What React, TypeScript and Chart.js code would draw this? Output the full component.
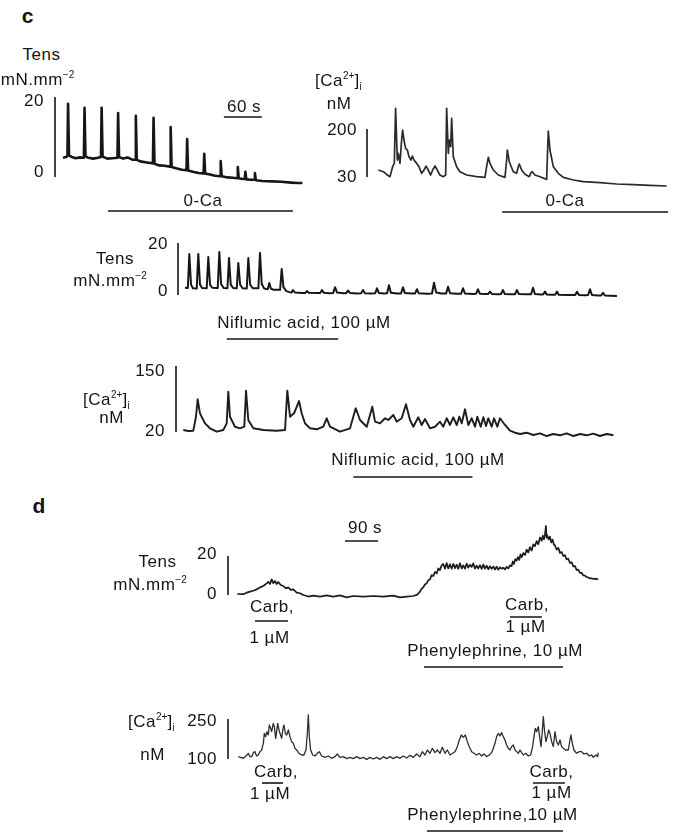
import React, { useEffect, useRef } from "react";
import { Chart, registerables } from "chart.js";

Chart.register(...registerables);

// ---------------- data ----------------
// c, top-left: tension (mN.mm^-2) vs time (s)
const c1Time = [0, 5, 7, 8, 9.5, 14, 20, 27, 32, 33, 34, 35.5, 40, 48, 55, 60, 61, 62.5, 70, 78, 86, 87, 88.5, 95, 102, 110, 114, 115, 116.5, 122, 130, 138, 142, 143, 144.5, 152, 160, 169, 170, 171.5, 180, 188, 195, 196, 197.5, 205, 214, 222, 223, 224.5, 232, 240, 248, 249, 250.5, 260, 268, 275, 276, 277.5, 283, 287, 288, 289.5, 296, 302, 303, 304.5, 315, 330, 345, 360, 370, 378];
const c1Tension = [4.8, 5.0, 5.2, 18.3, 5.4, 5.0, 4.7, 4.9, 4.8, 5.3, 17.3, 5.2, 4.8, 4.6, 4.8, 5.0, 17.3, 5.1, 4.6, 4.7, 4.8, 16.0, 5.0, 4.6, 4.9, 4.3, 4.3, 15.3, 4.3, 3.9, 3.7, 3.5, 3.4, 14.8, 3.3, 2.9, 2.8, 2.6, 12.5, 2.5, 2.1, 1.8, 1.7, 9.5, 1.6, 1.3, 1.0, 0.9, 5.8, 0.9, 0.6, 0.3, 0.2, 4.0, 0.2, -0.1, -0.2, -0.3, 2.5, -0.3, -0.5, -0.5, 1.3, -0.6, -0.7, -0.7, 1.0, -0.8, -1.0, -1.1, -1.2, -1.4, -1.5, -1.5];
const c1Ticks = [0, 20];
const c1ZeroCa = [71, 363];
const c1ScaleSec = [254, 314]; // 60 s

// c, top-right: [Ca2+]i (nM)
const c2Time = [0.5, 8.4, 14.7, 18.9, 23.1, 25.7, 27.8, 30.5, 32.1, 34.7, 37.3, 38.9, 41.0, 43.6, 46.3, 48.9, 52.1, 54.2, 56.8, 61.0, 64.7, 68.9, 72.6, 75.7, 79.4, 83.1, 86.3, 90.0, 93.6, 97.8, 103.1, 106.8, 108.4, 111.0, 112.6, 114.7, 116.3, 118.9, 124.2, 129.4, 140.0, 155.7, 168.9, 171.5, 174.2, 176.8, 182.1, 189.9, 200.5, 203.1, 204.2, 207.3, 213.6, 218.9, 221.5, 223.1, 226.8, 232.1, 238.9, 241.5, 243.6, 247.8, 255.7, 266.3, 267.8, 268.9, 271.5, 276.8, 284.7, 292.6, 308.4, 324.2, 350.5, 376.8, 403.1, 429.4, 455.7];
const c2Calcium = [54.7, 48.8, 37.0, 31.1, 66.5, 78.3, 273.1, 90.1, 113.8, 78.3, 161.0, 196.4, 161.0, 131.5, 125.6, 102.0, 90.1, 104.3, 90.1, 78.3, 66.5, 42.9, 54.7, 68.9, 54.7, 37.0, 54.7, 68.9, 54.7, 37.0, 31.1, 37.0, 273.1, 113.8, 161.0, 137.4, 237.7, 102.0, 66.5, 48.8, 37.0, 31.1, 28.8, 66.5, 99.6, 78.3, 54.7, 37.0, 28.8, 90.1, 125.6, 84.2, 48.8, 42.9, 66.5, 76.0, 54.7, 39.4, 31.1, 45.3, 48.8, 37.0, 31.1, 21.7, 125.6, 192.9, 125.6, 66.5, 42.9, 28.8, 19.3, 13.4, 9.9, 5.2, 2.8, 0.4, -1.9];
const c2Ticks = [30, 200];
const c2ZeroCa = [196, 458];

// c, middle: tension with niflumic acid
const c3Time = [0, 4.5, 6.8, 9.5, 12.5, 18.5, 21.0, 23.7, 27, 34.3, 36.8, 39.5, 43, 51.7, 54.2, 57, 61, 67, 69.5, 72.2, 76, 81.7, 84.2, 87, 91, 97.5, 100.0, 102.8, 107, 115.9, 118.4, 121.2, 125, 130.6, 133.1, 135.5, 140, 150.2, 152.7, 155.5, 160, 165, 168, 170.5, 173.5, 185, 190, 192.6, 195.5, 208, 213.5, 216.3, 219, 228, 234, 236.9, 240, 250, 254.5, 257.4, 260.5, 272, 278, 281.1, 284, 295, 300.3, 303.2, 306, 314, 319, 322.1, 325, 335, 341, 344.2, 347, 358, 363.3, 366.3, 369, 382, 390, 393.2, 396.5, 405, 412.3, 415.3, 418.5, 430, 436, 438.9, 442, 455, 459.6, 462.6, 465.5, 475, 478.8, 481.6, 484.5, 495, 499, 502.1, 505, 515, 521, 524.2, 527, 540, 546.5, 549.5, 552.5, 562, 565.5, 568.4, 571, 580, 584.5, 587.4, 590, 605, 616, 619, 622, 632, 636.5, 639.5, 642.5, 652, 657, 660, 663, 672, 682];
const c3Tension = [2.8, 2.7, 15.8, 4.0, 2.6, 2.5, 15.8, 4.0, 2.7, 2.6, 14.6, 4.0, 2.8, 2.7, 16.5, 4.2, 2.7, 2.6, 14.2, 4.0, 2.7, 2.6, 12.3, 4.0, 2.6, 2.5, 14.2, 4.0, 2.6, 2.6, 16.2, 4.2, 2.5, 2.2, 4.6, 2.5, 2.0, 2.0, 10.0, 3.0, 1.5, 1.1, 0.9, 1.9, 1.0, 0.8, 0.8, 1.5, 0.9, 0.8, 0.8, 1.9, 0.9, 0.7, 0.8, 3.0, 1.0, 0.7, 0.7, 1.7, 0.8, 0.6, 0.7, 1.9, 0.7, 0.6, 0.7, 2.6, 0.8, 0.6, 0.7, 3.8, 0.9, 0.6, 0.6, 3.0, 0.8, 0.6, 0.6, 2.2, 0.7, 0.5, 0.6, 4.7, 1.0, 0.6, 0.6, 3.2, 0.7, 0.5, 0.5, 2.6, 0.6, 0.4, 0.5, 2.2, 0.5, 0.4, 0.4, 1.3, 0.4, 0.3, 0.4, 1.9, 0.4, 0.3, 0.3, 1.9, 0.4, 0.3, 0.3, 2.8, 0.4, 0.2, 0.2, 1.3, 0.2, 0.1, 0.1, 1.3, 0.1, 0.0, 0.0, 1.2, 0.0, -0.1, 0.0, 2.2, 0.0, -0.2, -0.2, 0.8, -0.2, -0.3, -0.4];
const c3Ticks = [0, 20];
const c3Niflumic = [66, 242];

// c, bottom: [Ca2+]i with niflumic acid
const c4Time = [0.5, 8.4, 16.3, 20.5, 23.2, 26.8, 34.7, 42.6, 53.2, 63.6, 69.0, 71.5, 74.2, 82.1, 90.0, 96.8, 99.5, 103.1, 111.0, 126.8, 148.0, 161.1, 164.7, 169.0, 175.3, 183.2, 187.4, 192.6, 200.5, 211.1, 221.5, 226.9, 232.1, 247.9, 263.7, 272.7, 279.5, 290.1, 298.9, 303.2, 311.1, 319.0, 324.2, 332.1, 337.4, 345.3, 352.1, 358.4, 363.7, 371.5, 376.9, 382.1, 390.0, 397.9, 405.8, 411.0, 416.4, 421.6, 426.8, 432.2, 436.3, 440.1, 445.3, 450.5, 455.9, 461.1, 464.7, 470.1, 474.2, 478.4, 482.1, 487.4, 491.1, 496.3, 500.5, 508.4, 516.3, 524.2, 532.1, 542.7, 553.2, 563.7, 574.3, 584.7, 595.3, 605.9, 616.3, 626.9, 637.4, 647.9, 658.4, 669.0, 679.5];
const c4Calcium = [23.9, 22, 22.6, 50, 84.4, 56.8, 37.1, 27.3, 20.6, 23.9, 37.1, 99.4, 50, 30.4, 27.3, 30.4, 101.4, 43.6, 27.3, 23.9, 22.6, 23.9, 101.4, 50, 56.8, 81, 56.8, 37.1, 27.3, 25.3, 30.4, 47, 30.4, 20.6, 27.3, 66.7, 43.6, 30.4, 69.8, 40.3, 37.1, 47, 43.6, 53.5, 40.3, 47, 74.6, 43.6, 30.4, 49, 33.8, 45.6, 27.3, 30.4, 40.3, 30.4, 47, 33.8, 49, 33.8, 50, 37.1, 64.7, 33.8, 47, 30.4, 50, 30.4, 49, 31.8, 47, 30.4, 47, 30.4, 47, 33.8, 22.6, 18.6, 16.1, 18.6, 14.1, 17.4, 12.1, 16.1, 13.5, 17.4, 12.1, 16.1, 13.5, 16.7, 12.1, 16.1, 13.5];
const c4Ticks = [20, 150];
const c4Niflumic = [269, 457];

// d, top: tension with carbachol / phenylephrine
const d1Time = [0.8, 17.2, 26.5, 35.5, 44.5, 53.7, 62.7, 71.7, 81.0, 85.4, 90.0, 94.6, 99.0, 103.6, 108.3, 112.6, 119.2, 126.3, 133.6, 139.9, 146.4, 153.5, 162.8, 171.8, 180.8, 194.4, 208.1, 226.3, 244.6, 262.6, 280.9, 299.1, 317.2, 344.4, 371.7, 399.0, 426.2, 444.5, 462.8, 480.8, 491.7,
  499.0, 503.5, 508.0, 512.5, 517.3, 521.8, 526.3, 530.8, 535.3, 539.8, 544.6, 549.1, 553.6, 558.1, 562.6, 567.3, 571.8, 576.3, 580.9, 585.5, 590.0, 594.5, 599.0, 603.5, 608.1, 612.8, 617.3, 621.8, 626.3, 630.8, 635.4, 640.0, 644.5, 649.0, 653.5, 658.0, 662.6, 667.3, 671.8, 676.3, 680.8, 685.3, 689.9, 694.5, 699.0, 703.6, 708.1, 712.6, 717.2, 721.8, 726.3, 730.8, 735.3, 739.8, 744.4, 749.0, 752.2, 755.4, 759.0, 762.7, 766.2, 769.8, 773.0, 776.3, 780.8, 785.4, 789.9, 794.4, 799.0, 803.7, 808.2, 812.7, 817.2, 821.7, 826.3, 831.0, 834.1, 837.2, 840.0, 842.6, 844.4, 846.2, 850.0, 853.6, 857.2, 860.9, 864.0, 867.2, 871.7, 876.2, 880.8, 885.5, 890.0, 894.5, 899.0, 903.5, 908.1, 912.7, 917.2, 921.7, 926.2, 930.7, 935.3, 940.0, 944.5, 949.0, 953.5, 958.0, 962.6, 967.3, 971.8, 976.3, 980.8, 985.3];
const d1Tension = [0.5, 0.4, 1.2, 1.7, 2.2, 2.9, 3.9, 4.6, 6.0, 6.8, 5.6, 8.0, 6.0, 7.2, 5.6, 6.7, 5.1, 4.6, 3.4, 3.9, 2.6, 2.9, 1.2, 0.9, 0, -0.8, -0.3, -0.8, -0.2, -0.8, -0.2, -1.2, -0.5, -0.8, -0.5, -0.8, -0.3, -1.2, -0.8, -0.5, 0.2,
  1.7, 3.2, 3.9, 5.4, 6.0, 7.6, 8.0, 10.2, 9.7, 11.8, 11.1, 13.6, 12.8, 15.2, 15.9, 13.5, 16.4, 13.6, 15.8, 13.5, 16.0, 13.8, 15.6, 13.4, 16.3, 13.6, 15.2, 13.5, 16.1, 14.0, 15.5, 14.4, 16.2, 13.5, 15.0, 13.6, 15.3, 13.4, 15.6, 13.5, 15.1, 13.2, 14.8, 13.4, 14.6, 13.1, 14.5, 13.0, 14.2, 13.5, 14.0, 13.1, 14.4, 13.6, 15.2, 14.8, 17.2, 15.9, 18.4, 17.6, 19.5, 18.0, 20.8, 19.4, 21.5, 20.5, 23.3, 21.8, 24.6, 22.8, 26.0, 25.1, 27.6, 26.0, 29.5, 27.8, 30.4, 28.6, 31.2, 35.4, 29.4, 30.6, 28.5, 29.9, 27.0, 28.4, 26.0, 25.4, 23.3, 24.2, 21.6, 22.0, 20.0, 20.4, 18.3, 18.6, 16.4, 16.8, 14.6, 14.9, 12.8, 13.0, 11.3, 11.4, 10.0, 9.9, 9.2, 9.0, 8.5, 8.5, 8.2, 8.4, 8.1, 8.2];
const d1Ticks = [0, 20];
const d1ScaleSec = [294.5, 384.5]; // 90 s
const d1Carb1 = [49, 139];
const d1Carb2 = [744.5, 831.7];
const d1Phenylephrine = [510, 889];

// d, bottom: [Ca2+]i with carbachol / phenylephrine
const d2Time = [0.9, 7.3, 14.5, 21.8, 28.2, 32.7, 37.3, 41.8, 46.3, 50.9, 55.4, 60.0, 64.5, 69.1, 71.8, 75.4, 79.1, 82.7, 85.4, 89.1, 91.8, 96.3, 99.1, 102.7, 105.4, 108.2, 111.8, 114.5, 119.1, 122.7, 125.4, 129.1, 132.7, 137.3, 141.8, 146.3, 150.9, 155.4, 160.0, 166.3, 173.6, 180.0, 185.4, 189.1, 191.8, 194.5, 198.1, 203.6, 210.0, 216.3, 221.8, 228.1, 237.2, 246.3, 255.4, 264.5, 270.9, 278.1, 287.2, 296.3, 305.4, 314.5, 323.6, 332.7, 341.8, 350.9, 360.0, 369.0, 378.1, 387.2, 396.3, 405.4, 414.5, 423.6, 432.7, 441.8, 450.9, 460.0, 469.0, 478.1, 487.2, 496.3, 502.7, 510.0, 516.3, 523.6, 530.0, 537.2, 543.6, 550.9, 557.2, 564.5, 570.8, 578.1, 585.4, 591.8, 598.1, 603.6, 609.0, 614.5, 620.0, 625.4, 630.8, 637.2, 643.6, 650.8, 658.1, 664.5, 670.8, 678.1, 685.4, 691.7, 696.3, 700.8, 705.4, 709.9, 714.5, 719.0, 723.6, 728.1, 732.6, 737.2, 741.7, 746.3, 750.8, 755.4, 759.9, 764.5, 769.0, 773.6, 778.1, 785.4, 791.7, 798.1, 803.5, 807.2, 810.8, 814.4, 819.0, 822.6, 826.3, 829.9, 832.6, 836.3, 839.9, 843.5, 847.2, 850.8, 855.4, 859.9, 864.4, 869.0, 873.5, 878.1, 882.6, 887.2, 893.5, 900.8, 905.4, 908.1, 911.8, 916.3, 923.5, 930.8, 937.2, 943.5, 950.8, 958.1, 964.5, 969.0, 976.3, 980.8, 982.6];
const d2Calcium = [108.8, 106.3, 102.5, 111.3, 121.3, 108.8, 108.8, 123.8, 127.5, 111.3, 115.0, 127.5, 133.8, 158.8, 196.3, 183.8, 202.5, 190.0, 227.5, 215.0, 202.5, 233.8, 221.3, 177.5, 202.5, 233.8, 208.8, 196.3, 177.5, 215.0, 227.5, 196.3, 190.0, 208.8, 183.8, 165.0, 158.8, 140.0, 133.8, 121.3, 115.0, 115.0, 133.8, 196.3, 265.0, 183.8, 133.8, 115.0, 111.3, 121.3, 127.5, 111.3, 106.3, 111.3, 102.5, 108.8, 118.8, 106.3, 108.8, 101.3, 106.3, 101.3, 108.8, 101.3, 106.3, 98.8, 106.3, 100.0, 106.3, 98.8, 108.8, 101.3, 108.8, 101.3, 108.8, 102.5, 111.3, 103.8, 113.8, 106.3, 118.8, 108.8, 127.5, 115.0, 133.8, 121.3, 140.0, 123.8, 133.8, 121.3, 143.8, 121.3, 133.8, 115.0, 121.3, 127.5, 146.3, 171.3, 190.0, 181.3, 190.0, 165.0, 146.3, 127.5, 121.3, 115.0, 121.3, 111.3, 118.8, 108.8, 115.0, 123.8, 140.0, 158.8, 183.8, 196.3, 186.3, 198.8, 183.8, 171.3, 152.5, 140.0, 133.8, 146.3, 152.5, 133.8, 127.5, 121.3, 133.8, 123.8, 115.0, 121.3, 111.3, 115.0, 146.3, 183.8, 215.0, 202.5, 221.3, 183.8, 146.3, 202.5, 258.8, 202.5, 165.0, 183.8, 208.8, 196.3, 165.0, 146.3, 202.5, 165.0, 152.5, 171.3, 146.3, 140.0, 133.8, 133.8, 171.3, 190.0, 158.8, 133.8, 121.3, 127.5, 127.5, 118.8, 121.3, 111.3, 115.0, 106.3, 115.0, 108.8, 123.8];
const d2Ticks = [100, 250];
const d2Carb1 = [65.4, 122.7];
const d2Carb2 = [804.5, 891.7];
const d2Phenylephrine = [515.4, 886.3];

// ---------------- layout ----------------
const FONT = '"Liberation Sans", Arial, Helvetica, sans-serif';
const INK = "#141414";

type Bar = { range: number[]; yPx: number };
type Panel = {
  id: string;
  box: [number, number, number, number];
  t0Px: number; pxPerSec: number;
  refVal: number; refPx: number; pxPerUnit: number;
  barPx: number; ticks: number[]; tickDy: number[]; tickGap: number;
  bars: Bar[];
  time: number[]; values: number[];
  lineWidth: number; color: string;
};

const panels: Panel[] = [
  { id: "c1", box: [0, 85, 340, 135], t0Px: 63, pxPerSec: 38 / 60, refVal: 0, refPx: 177, pxPerUnit: 4,
    barPx: 55, ticks: c1Ticks, tickDy: [-5, 4], tickGap: 11,
    bars: [{ range: c1ZeroCa, yPx: 211 }, { range: c1ScaleSec, yPx: 117 }],
    time: c1Time, values: c1Tension, lineWidth: 2.6, color: "#161616" },
  { id: "c2", box: [300, 95, 385, 125], t0Px: 378, pxPerSec: 38 / 60, refVal: 30, refPx: 177, pxPerUnit: 48 / 170,
    barPx: 367, ticks: c2Ticks, tickDy: [0, 1], tickGap: 10,
    bars: [{ range: c2ZeroCa, yPx: 212 }],
    time: c2Time, values: c2Calcium, lineWidth: 1.7, color: "#2b2b2b" },
  { id: "c3", box: [130, 230, 510, 120], t0Px: 185, pxPerSec: 38 / 60, refVal: 0, refPx: 295, pxPerUnit: 2.6,
    barPx: 178, ticks: c3Ticks, tickDy: [-4, 1], tickGap: 10,
    bars: [{ range: c3Niflumic, yPx: 339 }],
    time: c3Time, values: c3Tension, lineWidth: 2.0, color: "#161616" },
  { id: "c4", box: [120, 355, 520, 125], t0Px: 183, pxPerSec: 38 / 60, refVal: 20, refPx: 432, pxPerUnit: 66 / 130,
    barPx: 176, ticks: c4Ticks, tickDy: [-1, 5], tickGap: 11,
    bars: [{ range: c4Niflumic, yPx: 477 }],
    time: c4Time, values: c4Calcium, lineWidth: 1.9, color: "#1c1c1c" },
  { id: "d1", box: [170, 515, 460, 160], t0Px: 237, pxPerSec: 33 / 90, refVal: 0, refPx: 595, pxPerUnit: 1.95,
    barPx: 228, ticks: d1Ticks, tickDy: [-1, -2], tickGap: 11,
    bars: [{ range: d1ScaleSec, yPx: 541 }, { range: d1Carb1, yPx: 621 }, { range: d1Carb2, yPx: 617 }, { range: d1Phenylephrine, yPx: 667 }],
    time: d1Time, values: d1Tension, lineWidth: 1.7, color: "#1c1c1c" },
  { id: "d2", box: [170, 700, 460, 133], t0Px: 238, pxPerSec: 33 / 90, refVal: 100, refPx: 759, pxPerUnit: 40 / 150,
    barPx: 228, ticks: d2Ticks, tickDy: [0, 2], tickGap: 11,
    bars: [{ range: d2Carb1, yPx: 783 }, { range: d2Carb2, yPx: 783 }, { range: d2Phenylephrine, yPx: 831 }],
    time: d2Time, values: d2Calcium, lineWidth: 1.3, color: "#2e2e2e" },
];

function makeOverlay(p: Panel) {
  return {
    id: "overlay_" + p.id,
    afterDatasetsDraw(chart: any) {
      const { ctx, scales } = chart;
      const x = scales.x, y = scales.y;
      ctx.save();
      ctx.strokeStyle = INK;
      ctx.fillStyle = INK;
      ctx.lineWidth = 1.6;
      ctx.lineCap = "butt";
      const bx = p.barPx - p.box[0];
      ctx.beginPath();
      ctx.moveTo(bx, y.getPixelForValue(p.ticks[0]));
      ctx.lineTo(bx, y.getPixelForValue(p.ticks[1]));
      ctx.stroke();
      ctx.font = "17px " + FONT;
      try { (ctx as any).letterSpacing = "0.5px"; } catch (e) {}
      ctx.textAlign = "right";
      ctx.textBaseline = "middle";
      p.ticks.forEach((v, i) => {
        ctx.fillText(String(v), bx - p.tickGap, y.getPixelForValue(v) + p.tickDy[i]);
      });
      p.bars.forEach((b) => {
        const yy = b.yPx - p.box[1];
        ctx.beginPath();
        ctx.moveTo(x.getPixelForValue(b.range[0]), yy);
        ctx.lineTo(x.getPixelForValue(b.range[1]), yy);
        ctx.stroke();
      });
      ctx.restore();
    },
  };
}

function Trace({ p }: { p: Panel }) {
  const ref = useRef<HTMLCanvasElement | null>(null);
  const [left, top, w, h] = p.box;
  useEffect(() => {
    if (!ref.current) return;
    const n = Math.min(p.time.length, p.values.length);
    const pts = [] as { x: number; y: number }[];
    for (let i = 0; i < n; i++) pts.push({ x: p.time[i], y: p.values[i] });
    const xMin = (left - p.t0Px) / p.pxPerSec;
    const xMax = (left + w - p.t0Px) / p.pxPerSec;
    const yMax = p.refVal + (p.refPx - top) / p.pxPerUnit;
    const yMin = p.refVal - (top + h - p.refPx) / p.pxPerUnit;
    const chart = new Chart(ref.current, {
      type: "line",
      data: {
        datasets: [{
          data: pts as any,
          borderColor: p.color,
          borderWidth: p.lineWidth,
          pointRadius: 0,
          tension: 0,
          fill: false,
          borderJoinStyle: "round",
        }],
      },
      options: {
        responsive: false,
        animation: false,
        events: [],
        layout: { padding: 0 },
        plugins: { legend: { display: false }, tooltip: { enabled: false }, title: { display: false } },
        scales: {
          x: { type: "linear", display: false, min: xMin, max: xMax },
          y: { type: "linear", display: false, min: yMin, max: yMax },
        },
      },
      plugins: [makeOverlay(p)],
    });
    return () => chart.destroy();
  }, [p]);
  return (
    <canvas ref={ref} width={w} height={h}
      style={{ position: "absolute", left, top, width: w, height: h }} />
  );
}

function L({ x, y, a = "c", bold = false, size = 17, children }: any) {
  const tx = a === "c" ? "-50%" : a === "r" ? "-100%" : "0";
  return (
    <div style={{
      position: "absolute", left: x, top: y, transform: `translate(${tx}, -50%)`,
      fontSize: size, fontWeight: bold ? "bold" : "normal", lineHeight: 1,
      whiteSpace: "nowrap", letterSpacing: bold ? 0 : 0.5,
    }}>{children}</div>
  );
}

const Sup = ({ children }: any) => (
  <span style={{ fontSize: 10, position: "relative", top: -7, letterSpacing: 0 }}>{children}</span>
);
const Sub = ({ children }: any) => (
  <span style={{ fontSize: 10, position: "relative", top: 4, letterSpacing: 0 }}>{children}</span>
);
const Units = () => (<>mN.mm<Sup>−2</Sup></>);
const CaLabel = () => (<>[Ca<Sup>2+</Sup>]<Sub>i</Sub></>);

export default function App() {
  return (
    <div style={{
      position: "absolute", left: 0, top: 0, width: 685, height: 833, overflow: "hidden",
      background: "#ffffff", fontFamily: FONT, color: INK,
    }}>
      {panels.map((p) => <Trace key={p.id} p={p} />)}

      <L x={27.5} y={15} bold size={21}>c</L>
      <L x={39} y={505} bold size={21}>d</L>

      {/* c top-left */}
      <L x={41.5} y={54}>Tens</L>
      <L x={37.5} y={79}><Units /></L>
      <L x={244} y={106}>60 s</L>
      <L x={203} y={200}>0-Ca</L>

      {/* c top-right */}
      <L x={315} y={80} a="l"><CaLabel /></L>
      <L x={339} y={103}>nM</L>
      <L x={565} y={200}>0-Ca</L>

      {/* c middle */}
      <L x={115} y={258}>Tens</L>
      <L x={110} y={280}><Units /></L>
      <L x={304} y={322}>Niflumic acid, 100 µM</L>

      {/* c bottom */}
      <L x={83} y={399} a="l"><CaLabel /></L>
      <L x={111.5} y={417}>nM</L>
      <L x={418} y={459}>Niflumic acid, 100 µM</L>

      {/* d top */}
      <L x={157.5} y={561}>Tens</L>
      <L x={150} y={584}><Units /></L>
      <L x={365} y={527}>90 s</L>
      <L x={272} y={606}>Carb,</L>
      <L x={269.5} y={637}>1 µM</L>
      <L x={527} y={604}>Carb,</L>
      <L x={525.5} y={626}>1 µM</L>
      <L x={495} y={650}>Phenylephrine, 10 µM</L>

      {/* d bottom */}
      <L x={128} y={721} a="l"><CaLabel /></L>
      <L x={152.5} y={754}>nM</L>
      <L x={276} y={771}>Carb,</L>
      <L x={270} y={793}>1 µM</L>
      <L x={551.5} y={771}>Carb,</L>
      <L x={551.5} y={792}>1 µM</L>
      <L x={492.5} y={814}>Phenylephrine,10 µM</L>
    </div>
  );
}
